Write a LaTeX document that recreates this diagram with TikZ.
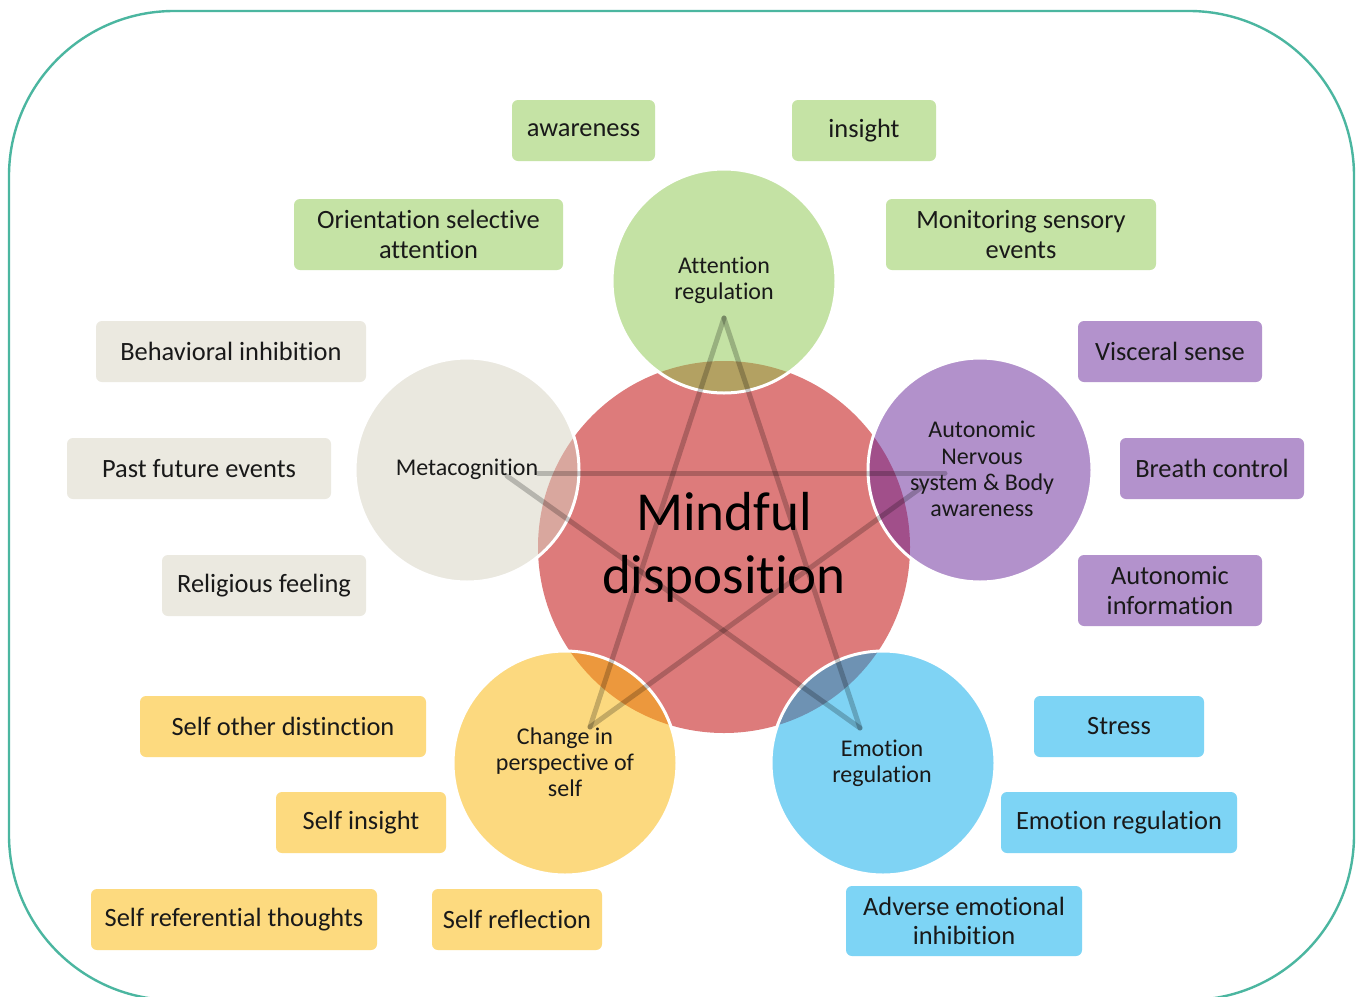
\documentclass[tikz,border=0pt]{standalone}
\usepackage{fontspec}
\setmainfont{Carlito}[Ligatures={NoCommon,NoContextual}]
\definecolor{frame}{RGB}{75,182,160}
\definecolor{txt}{RGB}{25,25,25}
\definecolor{redc}{RGB}{221,123,123}
\definecolor{gS}{RGB}{139,199,75}
\definecolor{pS}{RGB}{103,37,153}
\definecolor{yS}{RGB}{251,181,0}
\definecolor{bS}{RGB}{0,169,235}
\definecolor{eS}{RGB}{215,211,193}
\definecolor{gB}{RGB}{197,227,165}
\definecolor{pB}{RGB}{179,146,204}
\definecolor{yB}{RGB}{253,218,127}
\definecolor{bB}{RGB}{125,212,245}
\definecolor{eB}{RGB}{235,233,224}
\tikzset{
  box/.style={rounded corners=3pt, inner sep=0pt, align=center,
    font=\fontsize{13.2}{14.6}\selectfont, text=txt},
  circ/.style={circle, minimum size=112pt, inner sep=0pt, draw=white,
    line width=1.5pt, fill opacity=0.5},
  ctext/.style={align=center, font=\fontsize{12}{13.1}\selectfont, text=txt, inner sep=0pt},
  starline/.style={line width=2.5pt, draw=black, draw opacity=0.22, line cap=round},
}
\begin{document}
\begin{tikzpicture}[x=0.5pt,y=-0.5pt]
\useasboundingbox (0,0) rectangle (1359,996);
\fill[white] (0,0) rectangle (1359,996);
\draw[frame, line width=1.2pt, rounded corners=82.5pt] (9,11) rectangle (1354,1000);

% central circle
\node[circle, fill=redc, minimum size=186pt, inner sep=0pt] (center) at (724,547) {};

% satellite circles
\node[circ, fill=gS] (att) at (724,281) {};
\node[circ, fill=eS] (meta) at (467,470) {};
\node[circ, fill=pS] (ans) at (980,470) {};
\node[circ, fill=yS] (cps) at (565,763) {};
\node[circ, fill=bS] (emo) at (883,763) {};

% star
\coordinate (T) at (724,318);
\coordinate (BL) at (590,727);
\coordinate (BR) at (860,728);
\coordinate (L) at (507,476);
\coordinate (L2) at (538,473);
\coordinate (R) at (945,473);
\coordinate (R2) at (922,487);
\draw[starline] (T) -- (BL);
\draw[starline] (T) -- (BR);
\draw[starline] (L) -- (BR);
\draw[starline] (R2) -- (BL);
\draw[starline] (L2) -- (R);

% circle texts
\node[align=center, font=\fontsize{27.5}{31.5}\selectfont, text=black, inner sep=0pt] (centerT) at (724,547) {Mindful\\disposition};
\node[ctext] (attT) at (724,280) {Attention\\regulation};
\node[ctext] (metaT) at (467,469) {Metacognition};
\node[ctext] (ansT) at (982,469) {Autonomic\\Nervous\\system \& Body\\awareness};
\node[ctext] (cpsT) at (565,762) {Change in\\perspective of\\self};
\node[ctext] (emoT) at (882,763) {Emotion\\regulation};

% green boxes
\node[box, fill=gB, minimum width=71.5pt, minimum height=30.5pt] (aw) at (583.5,130.5) {awareness};
\node[box, fill=gB, minimum width=72pt, minimum height=30.5pt] (ins) at (864,130.5) {insight};
\node[box, fill=gB, minimum width=134.5pt, minimum height=35.5pt] (ori) at (428.5,234.5) {Orientation selective\\attention};
\node[box, fill=gB, minimum width=135pt, minimum height=35.5pt] (mon) at (1021,234.5) {Monitoring sensory\\events};
% beige boxes
\node[box, fill=eB, minimum width=135pt, minimum height=30.5pt] (beh) at (231,351.5) {Behavioral inhibition};
\node[box, fill=eB, minimum width=132pt, minimum height=30.5pt] (past) at (199,468.5) {Past future events};
\node[box, fill=eB, minimum width=102pt, minimum height=30.5pt] (rel) at (264,585.5) {Religious feeling};
% purple boxes
\node[box, fill=pB, minimum width=92pt, minimum height=30.5pt] (vis) at (1170,351.5) {Visceral sense};
\node[box, fill=pB, minimum width=92pt, minimum height=30.5pt] (bre) at (1212,468.5) {Breath control};
\node[box, fill=pB, minimum width=92pt, minimum height=35.5pt] (aut) at (1170,590.5) {Autonomic\\information};
% yellow boxes
\node[box, fill=yB, minimum width=143pt, minimum height=30.5pt] (sod) at (283,726.5) {Self other distinction};
\node[box, fill=yB, minimum width=85pt, minimum height=30.5pt] (sin) at (361,822.5) {Self insight};
\node[box, fill=yB, minimum width=143pt, minimum height=30.5pt] (srt) at (234,919.5) {Self referential thoughts};
\node[box, fill=yB, minimum width=85pt, minimum height=30.5pt] (sre) at (517,919.5) {Self reflection};
% blue boxes
\node[box, fill=bB, minimum width=85pt, minimum height=30.5pt] (str) at (1119,726.5) {Stress};
\node[box, fill=bB, minimum width=118pt, minimum height=30.5pt] (emr) at (1119,822.5) {Emotion regulation};
\node[box, fill=bB, minimum width=118pt, minimum height=35pt] (adv) at (964,921) {Adverse emotional\\inhibition};
\end{tikzpicture}
\end{document}
